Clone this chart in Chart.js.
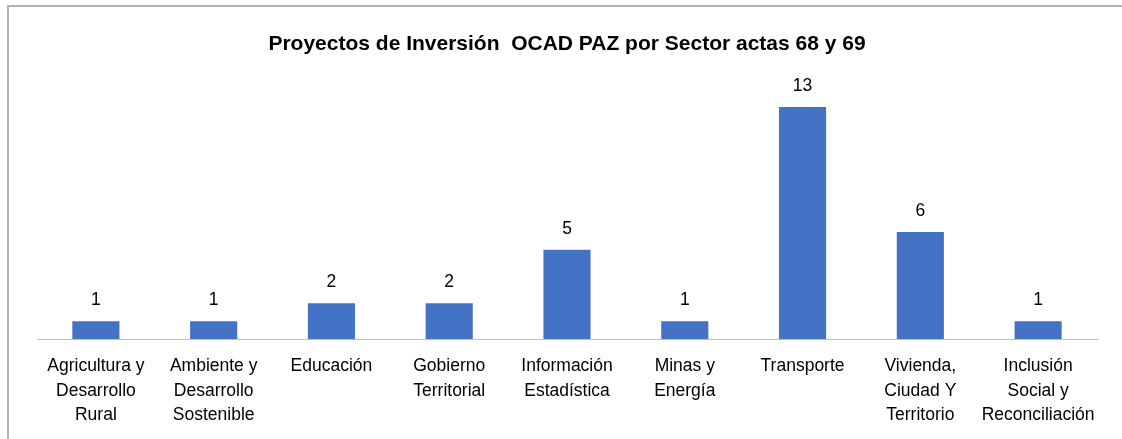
<!DOCTYPE html>
<html>
<head>
<meta charset="utf-8">
<script src="https://cdn.jsdelivr.net/npm/chart.js@4.4.1/dist/chart.umd.min.js"></script>
<style>
  html, body { margin: 0; padding: 0; background: #fff; overflow: hidden; }
  #wrap { position: relative; width: 1122px; height: 439px; }
  #frame { position: absolute; left: 7px; top: 5px; width: 1200px; height: 500px; border-left: 2px solid #b3b3b3; border-top: 2px solid #b3b3b3; }
  canvas { position: absolute; left: 0; top: 0; }
</style>
</head>
<body>
<div id="wrap">
  <div id="frame"></div>
  <canvas id="c" width="1122" height="439"></canvas>
</div>
<script>
const chartTitle = 'Proyectos de Inversión  OCAD PAZ por Sector actas 68 y 69';
const categories = [
  ['Agricultura y', 'Desarrollo', 'Rural'],
  ['Ambiente y', 'Desarrollo', 'Sostenible'],
  ['Educación'],
  ['Gobierno', 'Territorial'],
  ['Información', 'Estadística'],
  ['Minas y', 'Energía'],
  ['Transporte'],
  ['Vivienda,', 'Ciudad Y', 'Territorio'],
  ['Inclusión', 'Social y', 'Reconciliación']
];
const projectCounts = [1, 1, 2, 2, 5, 1, 13, 6, 1];
const yMax = 14;

const FONT = "'Liberation Sans', Arial, sans-serif";

const valueLabels = {
  id: 'valueLabels',
  afterDatasetsDraw(chart) {
    const ctx = chart.ctx;
    const meta = chart.getDatasetMeta(0);
    ctx.save();
    ctx.font = '17.5px ' + FONT;
    ctx.fillStyle = '#000';
    ctx.textAlign = 'center';
    ctx.textBaseline = 'alphabetic';
    meta.data.forEach((bar, i) => {
      ctx.fillText(String(chart.data.datasets[0].data[i]), bar.x, bar.y - 16);
    });
    ctx.restore();
  }
};

new Chart(document.getElementById('c'), {
  type: 'bar',
  data: {
    labels: categories,
    datasets: [{
      data: projectCounts,
      backgroundColor: '#4472C4',
      borderWidth: 0,
      categoryPercentage: 1.0,
      barPercentage: 0.4
    }]
  },
  options: {
    responsive: false,
    animation: false,
    devicePixelRatio: 1,
    layout: { padding: { left: 37, right: 25, top: 0, bottom: 0 } },
    plugins: {
      legend: { display: false },
      tooltip: { enabled: false },
      title: {
        display: true,
        text: chartTitle,
        color: '#000',
        font: { family: FONT, size: 21, weight: 'bold' },
        padding: { top: 32, bottom: 32 }
      }
    },
    scales: {
      x: {
        grid: { display: false, drawTicks: false },
        border: { display: true, color: '#bfbfbf', width: 1 },
        afterFit(scale) { scale.height = 100; },
        ticks: {
          color: '#000',
          font: { family: FONT, size: 17.5, lineHeight: '24.5px' },
          padding: 15,
          maxRotation: 0,
          autoSkip: false
        }
      },
      y: {
        display: false,
        min: 0,
        max: yMax
      }
    }
  },
  plugins: [valueLabels]
});
</script>
</body>
</html>
